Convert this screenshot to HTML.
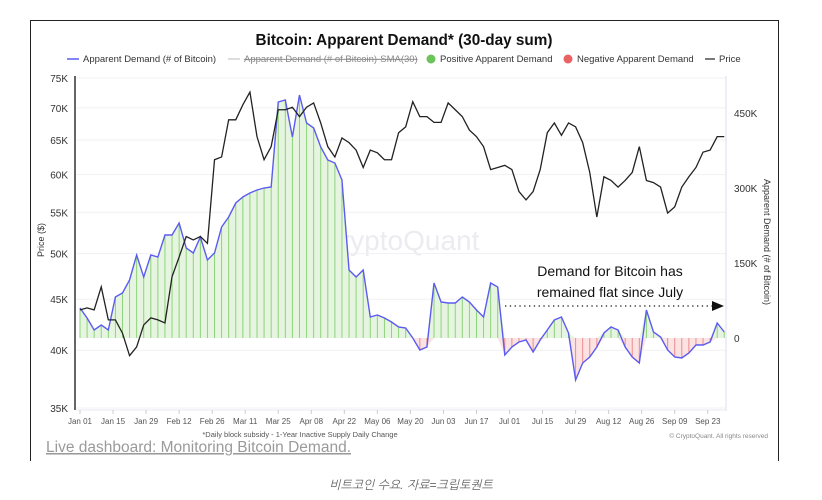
<!DOCTYPE html>
<html><head><meta charset="utf-8"><style>
body{margin:0;background:#fff;width:822px;height:500px;overflow:hidden;font-family:"Liberation Sans",sans-serif}
#card{position:absolute;left:30px;top:20px;width:747px;height:440px;border:1.5px solid #222;border-bottom:none;}
</style></head><body>
<div id="card"></div>
<svg id="chart" width="822" height="500" style="position:absolute;left:0;top:0">
<text x="404" y="45" text-anchor="middle" font-size="15.3" font-weight="bold" fill="#111">Bitcoin: Apparent Demand* (30-day sum)</text>
<g font-size="9.5" fill="#333">
<g><line x1="67" y1="59" x2="79" y2="59" stroke="#5b5bf0" stroke-width="1.5"/><text x="83" y="62">Apparent Demand (# of Bitcoin)</text></g>
<g><line x1="228" y1="59" x2="240" y2="59" stroke="#bbb" stroke-width="1"/><text x="244" y="62" fill="#888" text-decoration="line-through">Apparent Demand (# of Bitcoin)-SMA(30)</text></g>
<g><circle cx="431" cy="59" r="4.5" fill="#6cc35a"/><text x="440" y="62">Positive Apparent Demand</text></g>
<g><circle cx="568" cy="59" r="4.5" fill="#e86464"/><text x="577" y="62">Negative Apparent Demand</text></g>
<g><line x1="705" y1="59" x2="715" y2="59" stroke="#222" stroke-width="1.2"/><text x="719" y="62">Price</text></g>
</g>
<text x="400" y="250" text-anchor="middle" font-size="28" fill="#ebebf0">CryptoQuant</text>
<g id="grid"></g><g id="bars"></g><g id="lines"></g><g id="axes"></g>
<text x="610" y="276" text-anchor="middle" font-size="14" fill="#111">Demand for Bitcoin has</text>
<text x="610" y="297" text-anchor="middle" font-size="14" fill="#111">remained flat since July</text>
<line x1="505" y1="306" x2="712" y2="306" stroke="#111" stroke-width="1.3" stroke-dasharray="1.3,3.5"/>
<polygon points="712,301 724,306 712,311" fill="#111"/>
<text x="44" y="240" transform="rotate(-90 44 240)" text-anchor="middle" font-size="9" fill="#333">Price ($)</text>
<text x="764" y="242" transform="rotate(90 764 242)" text-anchor="middle" font-size="9" fill="#333">Apparent Demand (# of Bitcoin)</text>
<text x="300" y="437" text-anchor="middle" font-size="7.5" fill="#555">*Daily block subsidy - 1-Year Inactive Supply Daily Change</text>
<text x="768" y="438" text-anchor="end" font-size="6.5" fill="#888">© CryptoQuant. All rights reserved</text>
<text x="46" y="452" font-size="15.5" fill="#9a9a9a" text-decoration="underline">Live dashboard: Monitoring Bitcoin Demand.</text>
<text x="411" y="489" text-anchor="middle" font-size="12" font-style="italic" fill="#666" font-family="'Liberation Sans','NanumGothic','Noto Sans CJK KR',sans-serif">비트코인 수요. 자료=크립토퀀트</text>
</svg>
<script>
const demand=[60,40,16,26,16,82,90,116,166,122,166,162,206,206,230,180,170,202,156,170,222,242,270,282,290,296,300,302,472,476,402,486,430,420,382,356,350,316,136,122,136,42,46,40,32,22,20,0,-24,-18,110,72,70,70,82,72,56,42,110,102,-34,-18,-8,-4,-28,-4,16,36,42,10,-84,-50,-38,-18,10,22,16,-18,-38,-50,56,12,2,-24,-38,-40,-30,-14,-14,-8,30,12];
const price=[43.9,44.1,43.9,46.3,42.9,42.9,41.6,39.5,40.3,42.4,43.1,42.9,42.6,47.4,49.6,52.0,51.6,52.0,51.2,62.1,62.5,68.1,68.1,70.5,72.6,65.5,62.1,64.0,69.7,69.7,70.1,68.6,70.1,70.8,67.6,64.0,62.5,65.3,64.6,63.5,61.0,63.5,63.1,62.1,62.1,66.1,67.0,71.0,68.6,68.6,67.7,67.7,70.8,69.7,68.6,66.5,65.5,64.0,60.7,61.0,61.3,60.7,57.7,56.6,57.7,60.7,66.1,67.6,65.7,67.6,67.0,64.6,60.3,54.4,59.7,59.2,58.3,59.2,60.3,64.0,59.2,58.9,58.3,54.9,55.7,58.3,59.7,61.0,63.2,63.5,65.5,65.5];
const dayStep=3;
const xLabels=["Jan 01","Jan 15","Jan 29","Feb 12","Feb 26","Mar 11","Mar 25","Apr 08","Apr 22","May 06","May 20","Jun 03","Jun 17","Jul 01","Jul 15","Jul 29","Aug 12","Aug 26","Sep 09","Sep 23"];
const priceTicks=[35,40,45,50,55,60,65,70,75];
const demandTicks=[0,150,300,450];
const NS="http://www.w3.org/2000/svg";
const X0=80,PX=2.36;
function xDay(d){return X0+d*PX;}
function yPrice(p){return 78+433*Math.log(75/p);}
function yDem(v){return 338-v*0.5;}
function mk(t,a,parent){const e=document.createElementNS(NS,t);for(const k in a)e.setAttribute(k,a[k]);document.getElementById(parent).appendChild(e);return e;}
priceTicks.forEach(p=>{const y=yPrice(p);
 const g=mk('line',{x1:76,x2:726,y1:y,y2:y,stroke:'#f1f1f4','stroke-width':1},'grid');
 
 
 const t=mk('text',{x:68,y:y+4,'text-anchor':'end','font-size':10,fill:'#333'},'axes');t.textContent=p+'K';
 
 
});
demandTicks.forEach(v=>{const y=yDem(v);
 const t=mk('text',{x:734,y:y+4,'font-size':10,fill:'#333'},'axes');t.textContent=v===0?'0':v+'K';
 
 
});
let la=mk('line',{x1:75,x2:75,y1:76,y2:410,stroke:'#333','stroke-width':1.5},'axes');


let ra=mk('line',{x1:726,x2:726,y1:76,y2:411,stroke:'#dde','stroke-width':1},'axes');


let xa=mk('line',{x1:76,x2:726,y1:410,y2:410,stroke:'#e8e8ee','stroke-width':1},'axes');


xLabels.forEach((l,i)=>{const x=xDay(i*14);
 const tk=mk('line',{x1:x,x2:x,y1:410,y2:414,stroke:'#ccc'},'axes');
 
 
 const t=mk('text',{x:x,y:424,'text-anchor':'middle','font-size':8,fill:'#555'},'axes');t.textContent=l;
 
 
});
const y0=yDem(0);
function area(sign,color){let d='M'+xDay(0)+','+y0;demand.forEach((v,i)=>{const vv=sign>0?Math.max(v,0):Math.min(v,0);d+=' L'+xDay(i*dayStep)+','+yDem(vv);});d+=' L'+xDay((demand.length-1)*dayStep)+','+y0+' Z';
 const p=mk('path',{d:d,fill:color},'bars');return p;}
const pa=area(1,'#e6f5df');


const na=area(-1,'#fbe3e3');


demand.forEach((v,i)=>{const x=xDay(i*dayStep);
 const b=mk('line',{x1:x,x2:x,y1:y0,y2:yDem(v),stroke:v>=0?'#8fd27d':'#ee8a8a','stroke-width':1},'bars');
 
 
});
const dl=mk('polyline',{points:demand.map((v,i)=>xDay(i*dayStep)+','+yDem(v)).join(' '),fill:'none',stroke:'#5b5bf0','stroke-width':1.4},'lines');


const pl=mk('polyline',{points:price.map((p,i)=>xDay(i*dayStep)+','+yPrice(p)).join(' '),fill:'none',stroke:'#222','stroke-width':1.3},'lines');


</script>
</body></html>
